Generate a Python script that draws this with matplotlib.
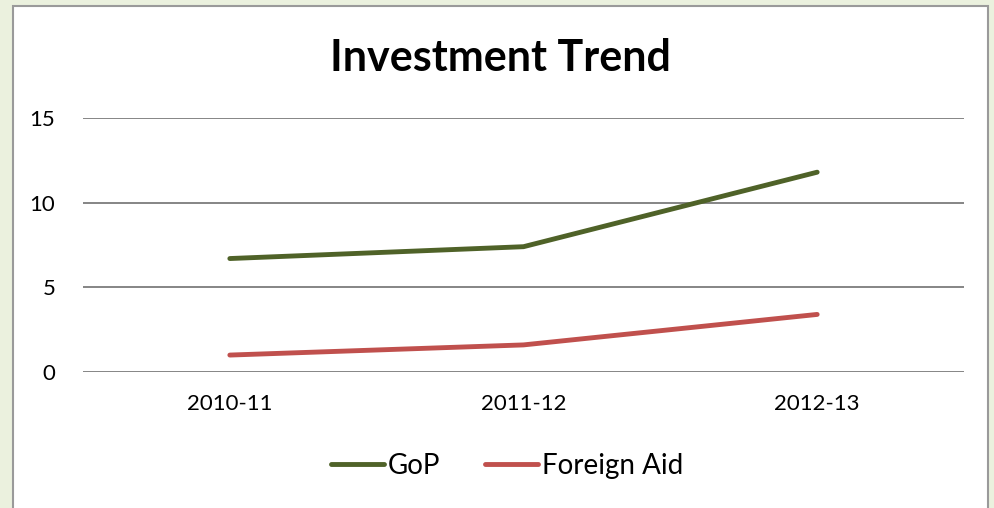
import numpy as np
import matplotlib
matplotlib.use("Agg")
from matplotlib import pyplot as plt
from matplotlib.patches import Rectangle

years = ["2010-11", "2011-12", "2012-13"]
gop = [6.7, 7.4, 11.8]
foreign_aid = [1.0, 1.6, 3.4]

plt.rcParams['font.family'] = ['Lato', 'DejaVu Sans']

W, H = 994, 508
fig = plt.figure(figsize=(W / 100, H / 100), dpi=100)
fig.patch.set_facecolor('#ebf1de')

# white chart area with grey border
fig.patches.append(Rectangle((13 / W, -0.05), (988 - 13) / W, 1.05 - 6 / H,
                             transform=fig.transFigure, facecolor='white',
                             edgecolor='#9a9a9a', linewidth=1.5, zorder=-5))

ax = fig.add_axes([83 / W, 1 - 372 / H, (964 - 83) / W, (372 - 118) / H])
ax.set_facecolor('none')
x = np.arange(len(years))
ax.plot(x, gop, color='#4f6228', linewidth=3.5, solid_capstyle='round', label='GoP')
ax.plot(x, foreign_aid, color='#c0504d', linewidth=3.5, solid_capstyle='round', label='Foreign Aid')

ax.set_xlim(-0.5, len(years) - 0.5)
ax.set_ylim(0, 15)
ax.set_yticks([0, 5, 10, 15])
ax.set_xticks(x)
ax.set_xticklabels(years)
ax.yaxis.grid(True, color='#858585', linewidth=1.4)
ax.set_axisbelow(True)
for s in ax.spines.values():
    s.set_visible(False)
ax.tick_params(axis='both', length=0, labelsize=16, colors='black')
ax.tick_params(axis='y', pad=20)
ax.tick_params(axis='x', pad=16)

fig.text(0.503, 1 - 58 / H, "Investment Trend", ha='center', va='center',
         fontsize=31, fontweight='bold', color='black')

fig.legend(loc='center', bbox_to_anchor=(507 / W, 1 - 466 / H), ncol=2,
           frameon=False, fontsize=20, handlelength=1.9, handletextpad=0.15,
           columnspacing=1.6)

fig.savefig('out.png', dpi=100, facecolor=fig.get_facecolor())
